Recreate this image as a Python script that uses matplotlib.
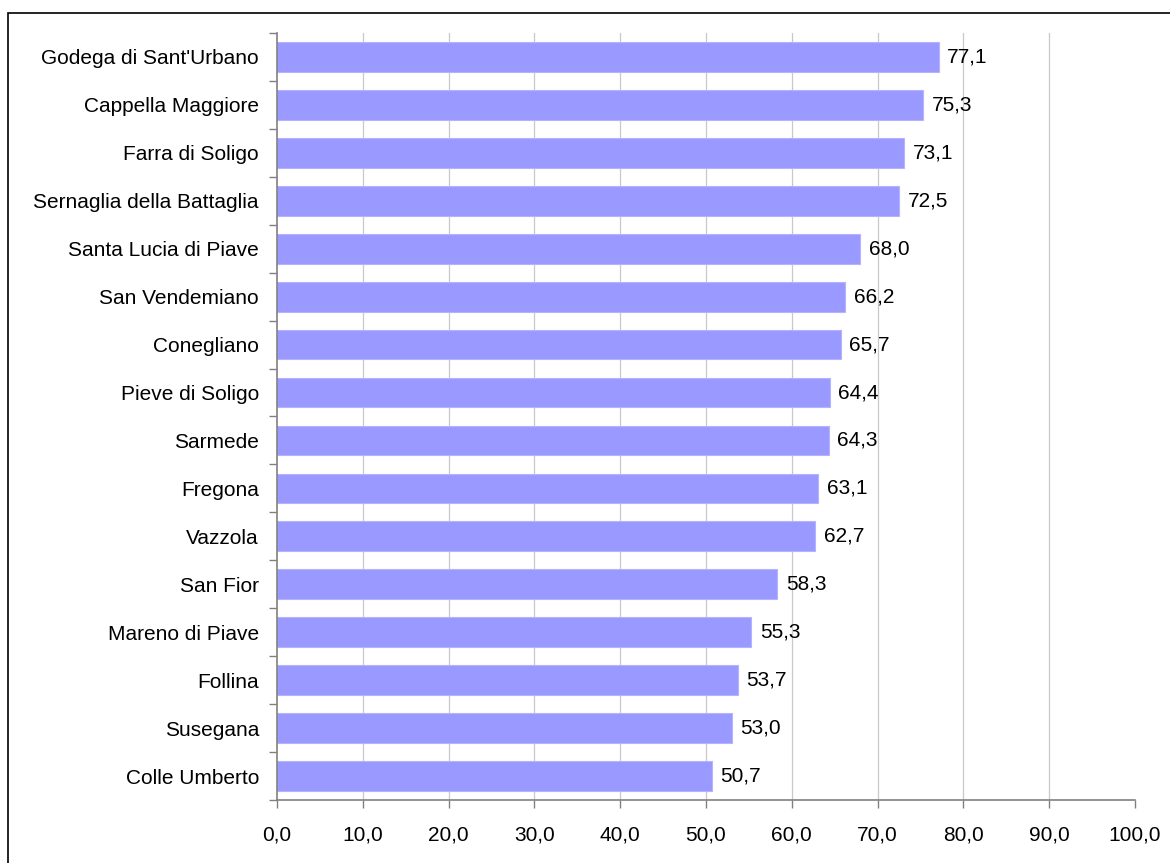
import matplotlib
matplotlib.use("Agg")
import matplotlib.pyplot as plt
from matplotlib.patches import Rectangle

categories = ["Godega di Sant'Urbano", "Cappella Maggiore", "Farra di Soligo",
              "Sernaglia della Battaglia", "Santa Lucia di Piave", "San Vendemiano",
              "Conegliano", "Pieve di Soligo", "Sarmede", "Fregona", "Vazzola",
              "San Fior", "Mareno di Piave", "Follina", "Susegana", "Colle Umberto"]
values = [77.1, 75.3, 73.1, 72.5, 68.0, 66.2, 65.7, 64.4, 64.3, 63.1, 62.7,
          58.3, 55.3, 53.7, 53.0, 50.7]
xticks = [0, 10, 20, 30, 40, 50, 60, 70, 80, 90, 100]

plt.rcParams['font.family'] = ['Liberation Sans', 'DejaVu Sans']

W, H = 1170, 863
FS = 15
fig = plt.figure(figsize=(W/100, H/100), dpi=100)
ax = fig.add_axes([277/W, 1-800/H, (1135-277)/W, (800-33)/H])

n = len(categories)
ypos = list(range(n))[::-1]
ax.barh(ypos, values, height=0.62, color='#9999FF', edgecolor='#B3B3FF',
        linewidth=0.8, zorder=2)
for y, v in zip(ypos, values):
    ax.text(v + 1.0, y, f"{v:.1f}".replace('.', ','), va='center', ha='left',
            fontsize=FS, color='black', zorder=3)

ax.set_xlim(0, 100)
ax.set_ylim(-0.5, n - 0.5)
ax.set_xticks(xticks)
ax.set_xticklabels([f"{t:.1f}".replace('.', ',') for t in xticks], fontsize=FS)
ax.set_yticks(ypos)
ax.set_yticklabels(categories, fontsize=FS)
ax.tick_params(axis='y', length=0, pad=13)
ax.set_yticks([i - 0.5 for i in range(n + 1)], minor=True)
ax.tick_params(axis='y', which='minor', length=6, color='#808080', width=1)
ax.tick_params(axis='x', length=6, color='#808080', width=1, pad=12)

for t in xticks[1:-1]:
    ax.axvline(t, color='#C8C8C8', linewidth=0.9, zorder=0)
for s in ['top', 'right']:
    ax.spines[s].set_visible(False)
for s in ['left', 'bottom']:
    ax.spines[s].set_color('#808080')
    ax.spines[s].set_linewidth(1.2)

fig.patches.append(Rectangle((8/W, -0.1), 1.2, 1 - 13/H + 0.1,
                             transform=fig.transFigure, fill=False,
                             edgecolor='black', linewidth=1.2))

fig.savefig("out.png", dpi=100)
